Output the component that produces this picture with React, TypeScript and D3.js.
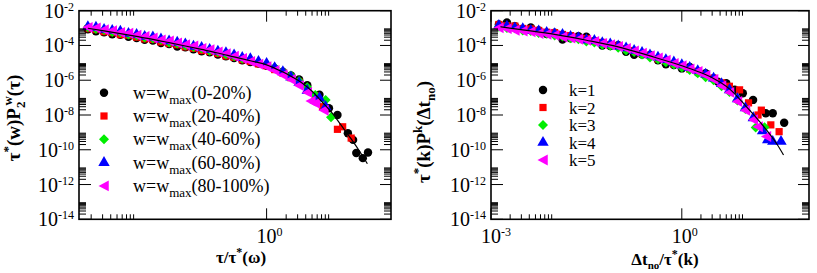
import React from 'react';
import * as d3 from 'd3';

const W = 817;
const H = 273;

// log-spaced bins shared by every series (x values)
const xBins = [1.33e-3, 1.78e-3, 2.37e-3, 3.16e-3, 4.22e-3, 5.62e-3, 7.5e-3, 0.01, 0.0133, 0.0178, 0.0237, 0.0316,
  0.0422, 0.0562, 0.075, 0.1, 0.133, 0.178, 0.237, 0.316, 0.422, 0.562, 0.75, 1, 1.33, 1.78, 2.37, 3.16, 4.22,
  5.62, 7.5, 10, 13.3, 17.8, 23.7, 31.6];

// left panel: w = w_max bands
const leftBlackY = [null, 8.5e-4, 6.5e-4, 5.8e-4, 4.4e-4, 4.1e-4, 3.2e-4, 2.7e-4, 2.1e-4, 1.9e-4, 1.4e-4, 1.2e-4, 8.8e-5, 7.9e-5, 6.0e-5, 4.7e-5, 4.1e-5, 3.0e-5, 2.4e-5, 1.9e-5, 1.4e-5, 1.1e-5, 9.1e-6, 6.8e-6, 4.8e-6, 3.1e-6, 1.9e-6, 1.1e-6, 5.1e-7];
const leftBlackTail = [[6.5, 1.45e-7], [9.1, 2.45e-8], [12.3, 1.0e-8], [17.8, 8.9e-10], [21.4, 3.7e-10], [24, 6.6e-11], [30.2, 3.3e-11], [36.3, 6.9e-11]];
const leftRedY = [null, 9.3e-4, 8.2e-4, 6.2e-4, 5.5e-4, 4.2e-4, 3.9e-4, 3.0e-4, 2.4e-4, 2.2e-4, 1.6e-4, 1.3e-4, 1.1e-4, 8.3e-5, 6.9e-5, 5.1e-5, 4.5e-5, 3.4e-5, 2.5e-5, 2.1e-5, 1.5e-5, 1.2e-5, 8.7e-6, 6.9e-6, 4.1e-6, 2.6e-6, 1.4e-6, 7.8e-7];
const leftRedTail = [[5.6, 1.26e-7], [7.24, 3.0e-8], [12.3, 1.5e-9], [14.8, 2.1e-9], [20, 4.7e-10]];
const leftGreenY = [null, 1.1e-3, 8.8e-4, 7.8e-4, 6.0e-4, 5.5e-4, 4.3e-4, 3.7e-4, 2.9e-4, 2.5e-4, 2.1e-4, 1.5e-4, 1.3e-4, 1.0e-4, 8.1e-5, 6.8e-5, 4.9e-5, 4.2e-5, 3.1e-5, 2.4e-5, 1.8e-5, 1.5e-5, 1.1e-5, 8.3e-6, 5.4e-6, 3.1e-6, 1.8e-6, 8.9e-7, 3.9e-7];
const leftGreenTail = [[5.6, 1.4e-7], [8.1, 7.4e-8], [9.8, 7.4e-9]];
const leftBlueY = [null, 1.2e-3, 1.1e-3, 8.3e-4, 7.2e-4, 6.5e-4, 4.9e-4, 4.3e-4, 3.3e-4, 3.0e-4, 2.3e-4, 1.8e-4, 1.5e-4, 1.2e-4, 8.9e-5, 7.6e-5, 5.9e-5, 4.6e-5, 3.8e-5, 2.8e-5, 2.0e-5, 1.7e-5, 1.2e-5, 9.1e-6, 5.2e-6, 3.0e-6, 1.5e-6, 7.1e-7, 2.6e-7];
const leftBlueTail = [[5.6, 7.4e-8], [6.5, 9.3e-8], [8.1, 3.0e-8]];
const leftPinkY = [null, 1.1e-3, 1.0e-3, 8.1e-4, 7.1e-4, 5.5e-4, 5.0e-4, 3.9e-4, 3.3e-4, 2.7e-4, 2.1e-4, 1.8e-4, 1.4e-4, 1.1e-4, 9.3e-5, 6.8e-5, 5.6e-5, 4.2e-5, 3.4e-5, 2.4e-5, 1.8e-5, 1.2e-5, 8.3e-6, 6.0e-6, 3.6e-6, 2.0e-6, 1.1e-6, 5.0e-7, 2.0e-7];
const leftPinkTail = [[4.8, 6.3e-8], [5.6, 4.8e-8], [7.6, 1.9e-8]];
const leftFitX = [1.78e-3, 3.16e-3, 5.62e-3, 0.01, 0.0178, 0.0316, 0.0562, 0.1, 0.178, 0.316, 0.562, 1, 1.585, 2.51, 3.55, 5.01, 7.08, 10, 14.1, 20, 28.2, 35.5];
const leftFitY = [9.8e-4, 6.9e-4, 4.8e-4, 3.3e-4, 2.24e-4, 1.45e-4, 9.3e-5, 5.9e-5, 3.7e-5, 2.2e-5, 1.32e-5, 7.6e-6, 3.6e-6, 1.51e-6, 6.8e-7, 2.34e-7, 5.9e-8, 1.41e-8, 2.5e-9, 4.2e-10, 6.3e-11, 1.58e-11];
const leftLegend = ['(0-20%)', '(20-40%)', '(40-60%)', '(60-80%)', '(80-100%)'];

// right panel: k = 1..5
const rightBlackY = [1.6e-3, 2.1e-3, 1.3e-3, 8.9e-4, 1.1e-3, 7.3e-4, 4.5e-4, 5.4e-4, 2.2e-4, 2.6e-4, 3.4e-4, 3.2e-4, 1.8e-4, 1.0e-4, 9.2e-5, 1.05e-4, 4.4e-5, 2.9e-5, 3.0e-5, 2.8e-5, 1.4e-5, 8.2e-6, 7.4e-6, 4.8e-6, 5.8e-6, 2.8e-6, 2.5e-6, 1.3e-6];
const rightBlackTail = [[3.7, 8.3e-7], [5.0, 6.8e-7], [6.8, 2.8e-7], [9.1, 1.8e-7], [13.2, 7.4e-8], [20.9, 1.26e-8], [26.9, 1.26e-8], [40.7, 3.6e-9]];
const rightRedY = [1.6e-3, 1.35e-3, 1.3e-3, 9.5e-4, 9.0e-4, 7.3e-4, 5.8e-4, 5.5e-4, 4.3e-4, 3.7e-4, 2.7e-4, 2.5e-4, 1.8e-4, 1.5e-4, 1.1e-4, 9.5e-5, 6.5e-5, 5.1e-5, 3.4e-5, 2.7e-5, 1.7e-5, 1.3e-5, 8.7e-6, 6.8e-6, 4.4e-6, 3.3e-6, 2.0e-6, 1.3e-6, 7.1e-7];
const rightRedTail = [[5.6, 4.5e-7], [8.1, 2.8e-7], [11.2, 5.0e-8], [15.8, 1.0e-8], [17.8, 1.9e-8], [25.1, 2.7e-9], [33.9, 1.1e-9]];
const rightGreenY = [1.2e-3, 1.0e-3, 9.7e-4, 7.2e-4, 6.8e-4, 5.2e-4, 4.8e-4, 3.7e-4, 3.3e-4, 2.6e-4, 2.3e-4, 1.7e-4, 1.5e-4, 1.1e-4, 9.7e-5, 7.4e-5, 5.1e-5, 4.2e-5, 3.0e-5, 2.0e-5, 1.6e-5, 1.1e-5, 8.1e-6, 5.4e-6, 3.9e-6, 2.5e-6, 1.5e-6, 1.0e-6, 4.5e-7, 2.1e-7, 6.8e-8, 2.2e-8];
const rightGreenTail = [[14.5, 1.9e-9], [20, 2.0e-9]];
const rightBlueY = [1.4e-3, 1.26e-3, 1.0e-3, 9.1e-4, 7.3e-4, 6.8e-4, 5.6e-4, 4.7e-4, 4.2e-4, 3.3e-4, 2.8e-4, 2.1e-4, 1.9e-4, 1.4e-4, 1.2e-4, 9.1e-5, 7.2e-5, 5.1e-5, 3.9e-5, 2.8e-5, 2.1e-5, 1.5e-5, 1.1e-5, 7.6e-6, 5.3e-6, 3.5e-6, 2.2e-6, 1.3e-6, 6.3e-7, 2.8e-7, 8.5e-8, 2.5e-8, 6.8e-9];
const rightBlueTail = [[18.6, 1.2e-9], [22.4, 3.7e-10], [26.9, 3.0e-10], [36.3, 3.0e-10]];
const rightPinkY = [1.04e-3, 9.3e-4, 7.5e-4, 6.8e-4, 6.1e-4, 4.8e-4, 4.4e-4, 3.9e-4, 3.1e-4, 2.7e-4, 2.3e-4, 2.0e-4, 1.7e-4, 1.3e-4, 1.1e-4, 8.7e-5, 6.8e-5, 4.8e-5, 3.6e-5, 2.6e-5, 1.9e-5, 1.4e-5, 9.3e-6, 6.9e-6, 4.4e-6, 3.2e-6, 1.9e-6, 1.1e-6, 4.8e-7, 2.0e-7, 6.0e-8, 1.9e-8, 5.4e-9];
const rightPinkTail = [[15.8, 2.1e-9], [21.4, 5.8e-10]];
const rightFitX = [1.41e-3, 3.16e-3, 0.01, 0.0316, 0.1, 0.316, 1, 1.78, 3.16, 5.62, 10, 17.8, 31.6, 39.8];
const rightFitY = [1.2e-3, 7.9e-4, 4.3e-4, 2.0e-4, 8.3e-5, 2.5e-5, 6.8e-6, 3.2e-6, 1.26e-6, 3.2e-7, 3.5e-8, 3.2e-9, 2.0e-10, 5.0e-11];
const rightLegend = ['k=1', 'k=2', 'k=3', 'k=4', 'k=5'];

const yExps = [-2, -4, -6, -8, -10, -12, -14];
const colors = ['#000000', '#ff0000', '#00ee00', '#0000ff', '#ff00ff'];
const FONT = '"Liberation Serif", "Times New Roman", serif';

type Pt = [number, number];

const leftTri = {
  draw(ctx: any, size: number) {
    const s = Math.sqrt(size / 1.87);
    ctx.moveTo(-s, 0);
    ctx.lineTo(s * 0.87, -s);
    ctx.lineTo(s * 0.87, s);
    ctx.closePath();
  },
};
const diamond = {
  draw(ctx: any, size: number) {
    const s = Math.sqrt(size / 2);
    ctx.moveTo(0, -s);
    ctx.lineTo(s, 0);
    ctx.lineTo(0, s);
    ctx.lineTo(-s, 0);
    ctx.closePath();
  },
};
const symbols = [
  d3.symbol(d3.symbolCircle, 56)(),
  d3.symbol(d3.symbolSquare, 52)(),
  d3.symbol(diamond as any, 50)(),
  d3.symbol(d3.symbolTriangle, 56)(),
  d3.symbol(leftTri as any, 56)(),
];

const toPts = (ys: (number | null)[], tail: number[][]): Pt[] => {
  const pts: Pt[] = [];
  ys.forEach((y, i) => { if (y != null) pts.push([xBins[i], y]); });
  tail.forEach(([x, y]) => pts.push([x, y]));
  return pts;
};

type PanelProps = {
  x0: number;
  x1: number;
  xDomain: [number, number];
  xMajors: number[];
  xLabels: number[];
  series: Pt[][];
  fitX: number[];
  fitY: number[];
  legend: React.ReactNode;
  xTitle: React.ReactNode;
  yTitle: React.ReactNode;
};

const Y0 = 219.3;
const Y1 = 10.7;

const Panel: React.FC<PanelProps> = ({ x0, x1, xDomain, xMajors, xLabels, series, fitX, fitY, legend, xTitle, yTitle }) => {
  const x = d3.scaleLog().domain(xDomain).range([x0, x1]);
  const y = d3.scaleLog().domain([1e-14, 1e-2]).range([Y0, Y1]);
  const inX = (v: number) => v >= xDomain[0] * 0.999 && v <= xDomain[1] * 1.001;

  const xMinors: number[] = [];
  xMajors.forEach(m => { for (let k = 2; k <= 9; k++) if (inX(m * k)) xMinors.push(m * k); });
  const yMinors: number[] = [];
  yExps.forEach(e => { for (let k = 2; k <= 9; k++) if (e < -2) yMinors.push(k * Math.pow(10, e)); });

  const line = d3.line<number>()
    .x((_, i) => x(fitX[i]))
    .y(d => y(d))
    .curve(d3.curveMonotoneX);

  return (
    <g>
      {/* markers */}
      {series.map((pts, si) => (
        <g key={si} fill={colors[si]}>
          {pts.map(([px, py], i) => (
            <path key={i} d={symbols[si] as string} transform={`translate(${x(px)},${y(py)})`} />
          ))}
        </g>
      ))}
      <path d={line(fitY) as string} fill="none" stroke="#000" strokeWidth={1.2} />

      {/* ticks */}
      <g stroke="#000" strokeWidth={1}>
        {xMajors.filter(inX).map(v => (
          <g key={'xm' + v}>
            <line x1={x(v)} x2={x(v)} y1={Y0} y2={Y0 - 11} />
            <line x1={x(v)} x2={x(v)} y1={Y1} y2={Y1 + 11} />
          </g>
        ))}
        {xMinors.map(v => (
          <g key={'xn' + v}>
            <line x1={x(v)} x2={x(v)} y1={Y0} y2={Y0 - 5} />
            <line x1={x(v)} x2={x(v)} y1={Y1} y2={Y1 + 5} />
          </g>
        ))}
        {yExps.map(e => (
          <g key={'ym' + e}>
            <line x1={x0} x2={x0 + 12} y1={y(Math.pow(10, e))} y2={y(Math.pow(10, e))} />
            <line x1={x1} x2={x1 - 11} y1={y(Math.pow(10, e))} y2={y(Math.pow(10, e))} />
          </g>
        ))}
        {yMinors.map((v, i) => (
          <g key={'yn' + i}>
            <line x1={x0} x2={x0 + 7} y1={y(v)} y2={y(v)} />
            <line x1={x1} x2={x1 - 7} y1={y(v)} y2={y(v)} />
          </g>
        ))}
      </g>
      <rect x={x0} y={Y1} width={x1 - x0} height={Y0 - Y1} fill="none" stroke="#000" strokeWidth={1.6} />

      {/* tick labels */}
      <g fontFamily={FONT} fill="#000">
        {yExps.map(e => (
          <text key={'yl' + e} x={x0 - 5} y={y(Math.pow(10, e)) + 7} textAnchor="end" fontSize={20}>
            10<tspan fontSize={12} dy={-7}>{e}</tspan>
          </text>
        ))}
        {xLabels.map(v => (
          <text key={'xl' + v} x={x(v) - 10} y={Y0 + 24} fontSize={20}>
            10<tspan fontSize={12} dy={-7}>{Math.round(Math.log10(v))}</tspan>
          </text>
        ))}
      </g>
      {legend}
      {xTitle}
      {yTitle}
    </g>
  );
};

const LegendRows: React.FC<{ mx: number; tx: number; y0: number; dy: number; size: number; labels: React.ReactNode[] }> = ({ mx, tx, y0, dy, size, labels }) => (
  <g fontFamily={FONT} fontSize={size}>
    {labels.map((lab, i) => (
      <g key={i}>
        <path d={symbols[i] as string} fill={colors[i]} transform={`translate(${mx},${y0 + i * dy})`} />
        <text x={tx} y={y0 + i * dy + 6}>{lab}</text>
      </g>
    ))}
  </g>
);

const App: React.FC = () => {
  const leftSeries = [
    toPts(leftBlackY, leftBlackTail),
    toPts(leftRedY, leftRedTail),
    toPts(leftGreenY, leftGreenTail),
    toPts(leftBlueY, leftBlueTail),
    toPts(leftPinkY, leftPinkTail),
  ];
  const rightSeries = [
    toPts(rightBlackY, rightBlackTail),
    toPts(rightRedY, rightRedTail),
    toPts(rightGreenY, rightGreenTail),
    toPts(rightBlueY, rightBlueTail),
    toPts(rightPinkY, rightPinkTail),
  ];

  const leftLabels = leftLegend.map(s => (
    <>w=w<tspan fontSize={13} dy={5}>max</tspan><tspan dy={-5}>{s}</tspan></>
  ));

  return (
    <svg width={W} height={H} style={{ position: 'absolute', left: 0, top: 0, background: '#fff' }}>
      <rect width={W} height={H} fill="#fff" />
      <Panel
        x0={79} x1={391} xDomain={[1.3e-3, 82]} xMajors={[1e-3, 1]} xLabels={[1]}
        series={leftSeries} fitX={leftFitX} fitY={leftFitY}
        legend={<LegendRows mx={104} tx={133} y0={92.7} dy={23.3} size={18} labels={leftLabels} />}
        xTitle={
          <text x={241} y={263} textAnchor="middle" fontFamily={FONT} fontWeight="bold" fontSize={17}>
            τ/τ<tspan fontSize={12} dy={-7}>*</tspan><tspan dy={7}>(ω)</tspan>
          </text>
        }
        yTitle={
          <text transform="translate(20,118) rotate(-90)" textAnchor="middle" fontFamily={FONT} fontWeight="bold" fontSize={19}>
            τ<tspan fontSize={13} dy={-8}>*</tspan><tspan dy={8}>(w)P</tspan><tspan fontSize={13} dy={5}>2</tspan><tspan fontSize={13} dx={-4} dy={-13}>w</tspan><tspan dy={8}>(τ)</tspan>
          </text>
        }
      />
      <Panel
        x0={491} x1={809} xDomain={[1e-3, 100]} xMajors={[1e-3, 1]} xLabels={[1e-3, 1]}
        series={rightSeries} fitX={rightFitX} fitY={rightFitY}
        legend={<LegendRows mx={543} tx={569} y0={90} dy={17.5} size={17} labels={rightLegend} />}
        xTitle={
          <text x={665} y={265} textAnchor="middle" fontFamily={FONT} fontWeight="bold" fontSize={17}>
            Δt<tspan fontSize={11} dy={4}>no</tspan><tspan dy={-4}>/τ</tspan><tspan fontSize={12} dy={-7}>*</tspan><tspan dy={7}>(k)</tspan>
          </text>
        }
        yTitle={
          <text transform="translate(430,132) rotate(-90)" textAnchor="middle" fontFamily={FONT} fontWeight="bold" fontSize={19}>
            τ<tspan fontSize={13} dy={-8}>*</tspan><tspan dy={8}>(k)P</tspan><tspan fontSize={13} dy={-8}>k</tspan><tspan dy={8}>(Δt</tspan><tspan fontSize={13} dy={5}>no</tspan><tspan dy={-5}>)</tspan>
          </text>
        }
      />
    </svg>
  );
};

export default App;
